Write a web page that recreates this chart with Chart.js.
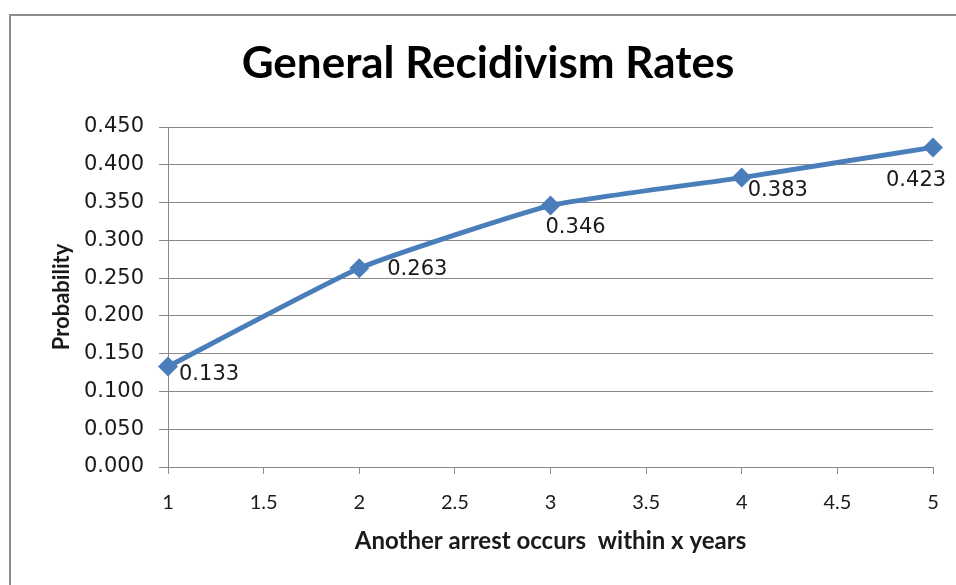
<!DOCTYPE html>
<html>
<head>
<meta charset="utf-8">
<script src="https://cdn.jsdelivr.net/npm/chart.js@4.4.1/dist/chart.umd.min.js"></script>
<style>
  html, body { margin: 0; padding: 0; background: #ffffff; }
  #wrap { position: relative; width: 956px; height: 585px; }
</style>
</head>
<body>
<div id="wrap"><canvas id="chart" width="956" height="585"></canvas></div>
<script>
// Share of offenders re-arrested within x years
const years = [1, 2, 3, 4, 5];
const probability = [0.133, 0.263, 0.346, 0.383, 0.423];

// Axis tick values
const xTickValues = [1, 1.5, 2, 2.5, 3, 3.5, 4, 4.5, 5];
const yTickValues = [0, 0.05, 0.1, 0.15, 0.2, 0.25, 0.3, 0.35, 0.4, 0.45];

// Text
const chartTitle = 'General Recidivism Rates';
const xAxisTitle = 'Another arrest occurs  within x years';
const yAxisTitle = 'Probability';

// Value label placement relative to each marker (dx, dy in px)
const labelNudges = [[11, 8], [28, 1], [-5, 22], [6, 13], [-47, 33]];

const GRID = '#8a8a8a';
const LINE = '#4a7ebb';
const TEXT = '#1a1a1a';
const narrowFont = 'Lato, "Open Sans", sans-serif';
const wideFont = '"DejaVu Sans", Verdana, sans-serif';

const PAD_L = 43, PAD_R = 23, PAD_B = 0;
const PLOT_LEFT = 168, PLOT_BOTTOM = 467, H = 585;

// Gray frame along the left and top edges
const framePlugin = {
  id: 'frame',
  beforeDraw(chart) {
    const ctx = chart.ctx;
    ctx.save();
    ctx.strokeStyle = '#8c8c8c';
    ctx.lineWidth = 2;
    ctx.beginPath();
    ctx.moveTo(10, H);
    ctx.lineTo(10, 15);
    ctx.lineTo(chart.width, 15);
    ctx.stroke();
    ctx.restore();
  }
};

// Value labels next to each marker
const valueLabels = {
  id: 'valueLabels',
  afterDatasetsDraw(chart) {
    const ctx = chart.ctx;
    const meta = chart.getDatasetMeta(0);
    const data = chart.data.datasets[0].data;
    ctx.save();
    ctx.font = '21px ' + wideFont;
    ctx.fillStyle = TEXT;
    ctx.textAlign = 'left';
    ctx.textBaseline = 'middle';
    meta.data.forEach((pt, i) => {
      const [dx, dy] = labelNudges[i];
      ctx.fillText(data[i].y.toFixed(3), pt.x + dx, pt.y + dy);
    });
    ctx.restore();
  }
};

new Chart(document.getElementById('chart'), {
  type: 'line',
  data: {
    datasets: [{
      label: yAxisTitle,
      data: years.map((x, i) => ({ x: x, y: probability[i] })),
      borderColor: LINE,
      backgroundColor: LINE,
      borderWidth: 5,
      tension: 0.15,
      pointStyle: 'rectRot',
      pointRadius: 10,
      pointBorderWidth: 0,
      pointBackgroundColor: LINE,
      clip: false
    }]
  },
  options: {
    responsive: false,
    animation: false,
    events: [],
    layout: { padding: { left: PAD_L, right: PAD_R, top: 0, bottom: PAD_B } },
    plugins: {
      legend: { display: false },
      tooltip: { enabled: false },
      title: {
        display: true,
        text: chartTitle,
        color: '#000000',
        font: { family: narrowFont, size: 44, weight: 'bold', lineHeight: 1.2 },
        padding: { top: 37.6, bottom: 36.6 }
      }
    },
    scales: {
      x: {
        type: 'linear',
        min: 1,
        max: 5,
        afterBuildTicks(scale) { scale.ticks = xTickValues.map(v => ({ value: v })); },
        afterFit(scale) { scale.height = H - PLOT_BOTTOM - PAD_B; },
        ticks: {
          color: TEXT,
          padding: 17,
          font: { family: narrowFont, size: 20 },
          callback: v => String(v)
        },
        grid: { drawOnChartArea: false, drawTicks: true, tickLength: 7, color: GRID },
        border: { display: true, color: GRID, width: 1 },
        title: {
          display: true,
          text: xAxisTitle,
          color: TEXT,
          font: { family: narrowFont, size: 24, weight: 'bold', lineHeight: 1.2 },
          padding: { top: 0, bottom: 29 }
        }
      },
      y: {
        min: 0,
        max: 0.45,
        afterBuildTicks(scale) { scale.ticks = yTickValues.map(v => ({ value: v })); },
        afterFit(scale) { scale.width = PLOT_LEFT - PAD_L; },
        ticks: {
          color: TEXT,
          padding: 15,
          font: { family: wideFont, size: 21 },
          callback: v => Number(v).toFixed(3)
        },
        grid: { color: GRID, lineWidth: 1, drawTicks: true, tickLength: 9 },
        border: { display: true, color: GRID, width: 1 },
        title: {
          display: true,
          text: yAxisTitle,
          color: TEXT,
          font: { family: narrowFont, size: 22, weight: 'bold', lineHeight: 1.2 },
          padding: { top: 6, bottom: 0 }
        }
      }
    }
  },
  plugins: [framePlugin, valueLabels]
});
</script>
</body>
</html>
